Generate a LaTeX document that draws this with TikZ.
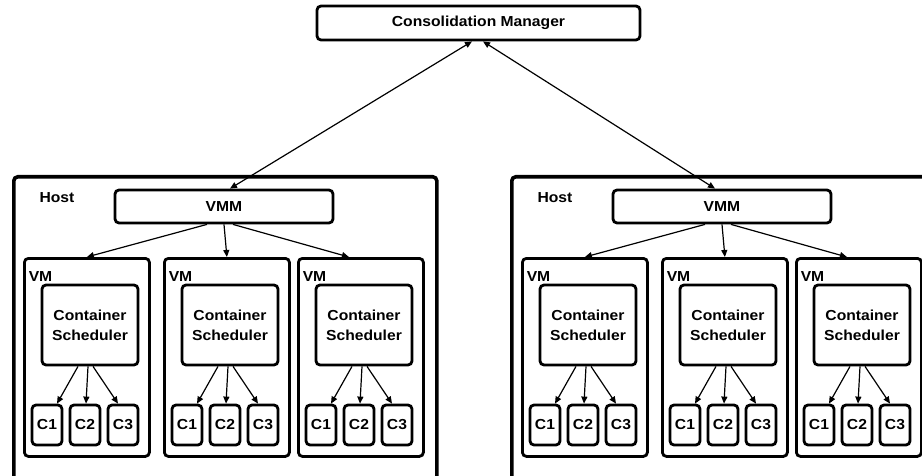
\documentclass[tikz,border=0pt]{standalone}
\usepackage{fontspec}
\setmainfont{Liberation Sans}[FakeStretch=1.08]
\usetikzlibrary{arrows.meta}

\tikzset{
  lbl/.style={font=\bfseries\fontsize{14.5}{20}\selectfont, text=black, inner sep=0pt},
  box/.style={draw, line width=2.8pt, rounded corners=4pt, fill=white, inner sep=0pt, lbl},
  hostbox/.style={draw, line width=3.6pt, rounded corners=4pt, fill=white, inner sep=0pt},
  tip/.style={Triangle[length=7pt,width=6pt]},
  conn/.style={line width=1.2pt, -{Triangle[length=7pt,width=6pt]}},
  biconn/.style={line width=1.2pt, {Triangle[length=7pt,width=6pt]}-{Triangle[length=7pt,width=6pt]}}
}

\begin{document}
\begin{tikzpicture}[x=1pt,y=-1pt]
\useasboundingbox (0,0) rectangle (922,476);
\clip (0,0) rectangle (922,476);

% top-level manager
\node[box, minimum width=323pt, minimum height=34pt] (cm) at (478.5,23) {Consolidation Manager};

% two hosts, each with a VMM and three VMs
\foreach \h/\b in {L/12, R/510} {
  \node[hostbox, minimum width=423pt, minimum height=320pt, anchor=north west] (host\h) at (\b,175) {};
  \node[lbl] (hostlbl\h) at (\b+45,198) {Host};
  \node[box, minimum width=218pt, minimum height=33pt] (vmm\h) at (\b+212,206.5) {VMM};
  \foreach \v/\o/\s/\e in {1/11/-17/0, 2/151/0/0, 3/285/9/-12} {
    \node[box, minimum width=125pt, minimum height=198pt, anchor=north west] (vm\h\v) at (\b+\o,257) {};
    \node[lbl] (vmlbl\h\v) at (\b+\o+17.5,277) {VM};
    \node[box, minimum width=96pt, minimum height=80pt, align=center] (cs\h\v) at (\b+\o+67,325) {Container\\Scheduler};
    \node[box, minimum width=30pt, minimum height=40pt] (c\h\v a) at (\b+\o+24,425) {C1};
    \node[box, minimum width=30pt, minimum height=40pt] (c\h\v b) at (\b+\o+62,425) {C2};
    \node[box, minimum width=30pt, minimum height=40pt] (c\h\v c) at (\b+\o+100,425) {C3};
    \draw[conn] ([xshift=-12pt]cs\h\v.south) -- ([xshift=10pt]c\h\v a.north);
    \draw[conn] ([xshift=-2pt]cs\h\v.south) -- ([xshift=1pt]c\h\v b.north);
    \draw[conn] ([xshift=3pt]cs\h\v.south) -- ([xshift=-5pt]c\h\v c.north);
    \draw[conn] ([xshift=\s pt]vmm\h.south) -- ([xshift=\e pt]vm\h\v.north);
  }
}

% manager to both VMMs
\draw[biconn] ([xshift=-6.5pt]cm.south) -- ([xshift=6pt]vmmL.north);
\draw[biconn] ([xshift=4.5pt]cm.south) -- ([xshift=-7pt]vmmR.north);
\end{tikzpicture}
\end{document}
